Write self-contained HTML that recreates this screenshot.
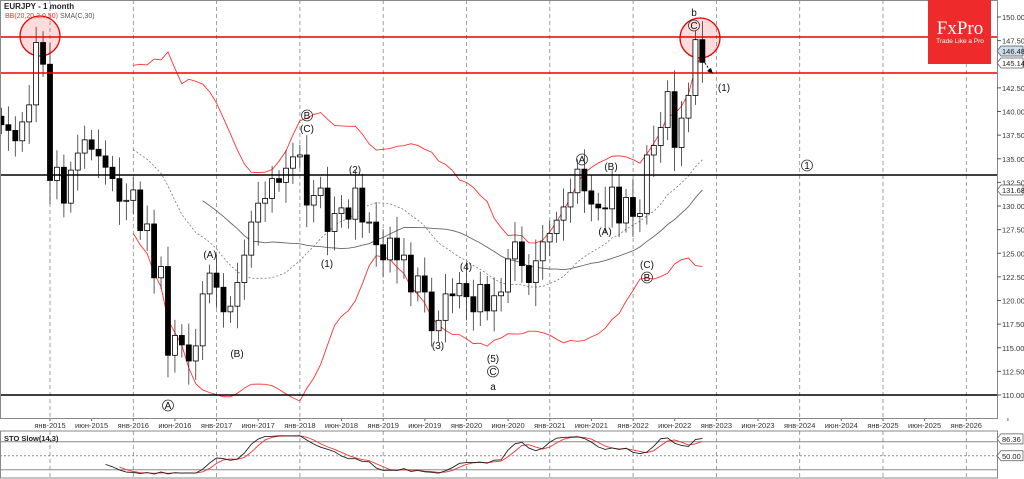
<!DOCTYPE html>
<html><head><meta charset="utf-8"><style>
html,body{margin:0;padding:0;background:#fff;width:1024px;height:479px;overflow:hidden}
svg{display:block;font-family:"Liberation Sans",sans-serif}
</style></head><body>
<svg id="s" width="1024" height="479" xmlns="http://www.w3.org/2000/svg"></svg>
<script>
const closes=[138.6,138.0,136.9,138.9,140.7,147.3,145.0,
132.7,134.1,130.3,133.8,135.6,137.0,136.0,135.3,134.1,132.9,130.5,130.6,
131.7,127.4,128.1,122.4,123.6,114.2,116.3,115.3,113.6,115.2,120.7,122.9,
121.4,118.8,119.4,121.9,124.8,128.3,130.3,130.8,132.9,132.5,134.0,135.2,
135.4,130.1,131.1,131.9,127.3,129.2,129.8,128.6,131.9,128.3,128.3,125.9,
124.3,126.6,124.3,124.8,120.9,122.6,120.9,116.8,117.9,120.7,120.5,121.8,
120.4,118.8,121.7,118.9,120.5,120.9,124.4,126.2,123.7,121.9,124.2,126.2,
127.1,128.5,129.9,131.4,133.9,131.6,130.2,129.8,129.7,132.0,128.2,130.9,
128.9,129.2,135.4,136.4,138.3,142.1,136.2,139.3,141.7,147.6,145.2];
const Y=p=>17+(150-p)*9.45, X=i=>50+(i-7)*6.94;
let h='';
// grid verticals
const yrs=[2015,2016,2017,2018,2019,2020,2021,2022,2023,2024,2025,2026];
yrs.forEach((y,k)=>{const x=50+k*83.3;h+=`<line x1="${x}" y1="0" x2="${x}" y2="418" stroke="#888" stroke-dasharray="4,3" stroke-width="0.8"/><line x1="${x}" y1="431" x2="${x}" y2="478" stroke="#888" stroke-dasharray="4,3" stroke-width="0.8"/>`;
h+=`<text x="${x}" y="428" font-size="7.5" text-anchor="middle" fill="#333">янв-${y}</text>`;
if(y<2026)h+=`<text x="${x+41.6}" y="428" font-size="7.5" text-anchor="middle" fill="#333">июн-${y}</text>`;
h+=`<line x1="${x}" y1="418" x2="${x}" y2="421" stroke="#666"/><line x1="${x+41.6}" y1="418" x2="${x+41.6}" y2="421" stroke="#666"/>`;});
// circles
h+=`<circle cx="40" cy="36" r="20" fill="rgba(255,80,80,0.2)" stroke="#e00" stroke-width="1.3"/><circle cx="700" cy="38" r="20" fill="rgba(255,80,80,0.2)" stroke="#e00" stroke-width="1.3"/>`;
// BB & SMA
const n=closes.length;let up='',lo='',mid='',s30='';
for(let i=19;i<n;i++){const w=closes.slice(i-19,i+1);const m=w.reduce((a,b)=>a+b)/20;const sd=Math.sqrt(w.reduce((a,b)=>a+(b-m)**2,0)/20);
up+=`${X(i)},${Y(m+2*sd)} `;lo+=`${X(i)},${Y(m-2*sd)} `;mid+=`${X(i)},${Y(m)} `;}
for(let i=29;i<n;i++){const m=closes.slice(i-29,i+1).reduce((a,b)=>a+b)/30;s30+=`${X(i)},${Y(m)} `;}
h+=`<polyline points="${up}" fill="none" stroke="#f33" stroke-width="0.9"/><polyline points="${lo}" fill="none" stroke="#f33" stroke-width="0.9"/><polyline points="${mid}" fill="none" stroke="#777" stroke-dasharray="2,2" stroke-width="0.8"/><polyline points="${s30}" fill="none" stroke="#666" stroke-width="0.9"/>`;
// candles
const H=[],L=[];
for(let i=0;i<n;i++){const o=i?closes[i-1]:139.5,c=closes[i];const r=1+((i*37)%10)/6;const hi=Math.max(o,c)+r*0.9,lw=Math.min(o,c)-r;H.push(hi);L.push(lw);
const x=X(i);h+=`<line x1="${x}" y1="${Y(hi)}" x2="${x}" y2="${Y(lw)}" stroke="#333" stroke-width="0.8"/>`;
const t=Y(Math.max(o,c)),b=Y(Math.min(o,c));h+=`<rect x="${x-2.5}" y="${t}" width="5" height="${Math.max(1,b-t)}" fill="${c>=o?'#fff':'#000'}" stroke="#000" stroke-width="0.8"/>`;}
// horizontal lines
h+=`<line x1="0" y1="37" x2="997" y2="37" stroke="#e00" stroke-width="1.5"/><line x1="0" y1="73" x2="997" y2="73" stroke="#e00" stroke-width="1.5"/><line x1="0" y1="175" x2="997" y2="175" stroke="#000" stroke-width="1.5"/><line x1="0" y1="395" x2="997" y2="395" stroke="#000" stroke-width="1.5"/>`;
h+=`<line x1="703" y1="60" x2="711" y2="72" stroke="#000" stroke-dasharray="2,1.5"/><polygon points="713,74 707,71 711,68" fill="#000"/>`;
// labels
const lab=(x,y,t,c)=>{h+=`<text x="${x}" y="${y}" font-size="10" text-anchor="middle" fill="#111">${t}</text>`;if(c)h+=`<circle cx="${x}" cy="${y-3.5}" r="5.5" fill="none" stroke="#333" stroke-width="0.8"/>`;};
lab(168,409,'A',1);lab(307,119,'B',1);lab(307,132,'(C)');lab(210,258,'(A)');lab(237,357,'(B)');lab(327,267,'(1)');lab(355,173,'(2)');lab(438,349,'(3)');lab(466,270,'(4)');lab(493,362,'(5)');lab(493,375,'C',1);lab(493,390,'a');
lab(582,163,'A',1);lab(611,170,'(B)');lab(605,235,'(A)');lab(647,268,'(C)');lab(647,281,'B',1);lab(694,29,'C',1);lab(694,16,'b');lab(724,91,'(1)');lab(807,169,'1',1);
// axes
h+=`<rect x="0.5" y="0.5" width="997" height="418" fill="none" stroke="#888"/><rect x="0.5" y="431" width="997" height="47" fill="none" stroke="#888"/>`;
for(let p=110;p<=150;p+=2.5){const y=Y(p);h+=`<line x1="997" y1="${y}" x2="1001" y2="${y}" stroke="#555"/><text x="1002" y="${y+3}" font-size="7.5" fill="#333">${p.toFixed(2)}</text>`;}
const tag=(y,t,f)=>{h+=`<polygon points="997,${y} 1001,${y-5} 1023,${y-5} 1023,${y+5} 1001,${y+5}" fill="${f}" stroke="#555" stroke-width="0.7"/><text x="1002" y="${y+3}" font-size="7.5" fill="#222">${t}</text>`;};
tag(51,'146.48','#cde');tag(63,'145.14','#fff');tag(190,'131.68','#fff');
// logo
h+=`<rect x="928" y="0" width="63" height="64" fill="#ee2a2a"/><text x="960" y="34" font-family="Liberation Serif,serif" font-size="19" fill="#fff" text-anchor="middle">FxPro</text><text x="960" y="43" font-size="6.5" fill="#fff" text-anchor="middle">Trade Like a Pro</text>`;
h+=`<text x="4" y="9" font-size="8" font-weight="bold" fill="#222">EURJPY - 1 month</text><text x="5" y="18" font-size="7" fill="#e33">BB(20,20,2.0,50)</text><text x="60" y="18" font-size="7" fill="#555">SMA(C,30)</text>`;
// stochastic
const SY=v=>479-v*0.465;
h+=`<line x1="0" y1="${SY(80)}" x2="997" y2="${SY(80)}" stroke="#888"/><line x1="0" y1="${SY(50)}" x2="997" y2="${SY(50)}" stroke="#888" stroke-dasharray="2,2"/><line x1="0" y1="${SY(20)}" x2="997" y2="${SY(20)}" stroke="#888"/>`;
h+=`<text x="4" y="441" font-size="7.5" font-weight="bold" fill="#222">STO Slow(14,3)</text>`;
const raw=[];for(let i=13;i<n;i++){const hh=Math.max(...H.slice(i-13,i+1)),ll=Math.min(...L.slice(i-13,i+1));raw[i]=[closes[i]-ll,hh-ll];}
const K=[],D=[];for(let i=15;i<n;i++){let a=0,b=0;for(let j=i-2;j<=i;j++){a+=raw[j][0];b+=raw[j][1];}K[i]=100*a/b;}
for(let i=17;i<n;i++)D[i]=(K[i]+K[i-1]+K[i-2])/3;
let kp='',dp='';for(let i=15;i<n;i++)kp+=`${X(i)},${SY(K[i])} `;for(let i=17;i<n;i++)dp+=`${X(i)},${SY(D[i])} `;
h+=`<polyline points="${dp}" fill="none" stroke="#e33" stroke-width="0.9"/><polyline points="${kp}" fill="none" stroke="#222" stroke-width="0.9"/>`;
tag(SY(86.36),'86.36','#fff');tag(SY(50),'50.00','#fff');
document.getElementById('s').innerHTML=h;
</script>
</body></html>
